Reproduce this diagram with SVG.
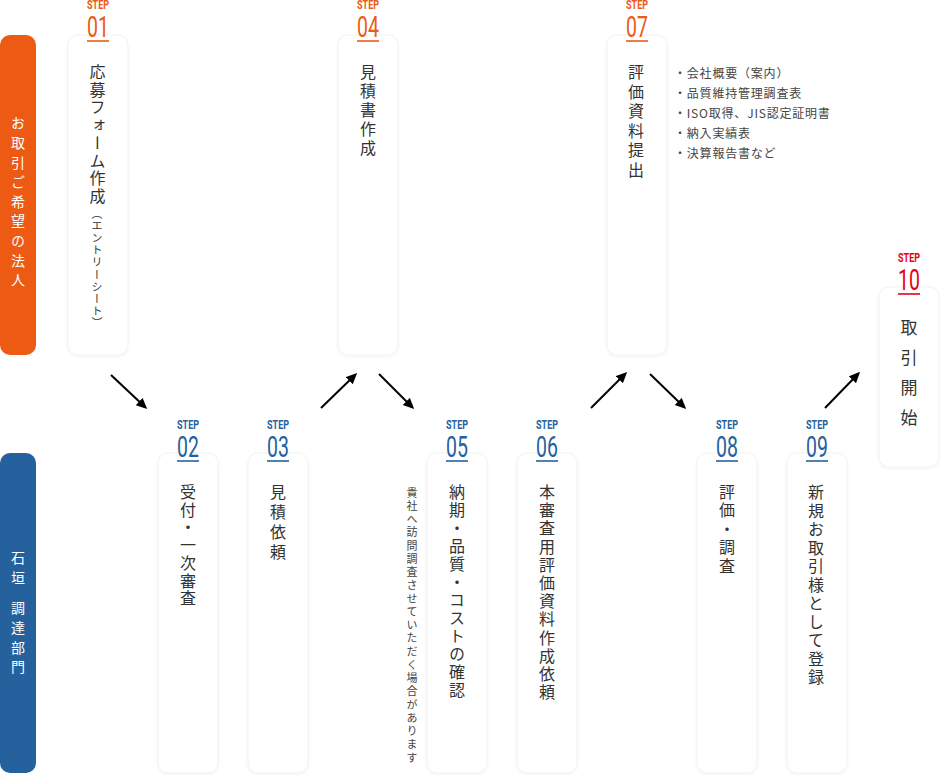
<svg xmlns="http://www.w3.org/2000/svg" width="940" height="775" viewBox="0 0 940 775">
<defs>
<style>
.bg{fill:#ffffff}
.card{fill:#ffffff;stroke:#f2f2f2;stroke-width:1;filter:url(#sh)}
.vt{font-family:"Noto Sans CJK JP","Noto Sans",sans-serif;font-size:16px;fill:#333333;writing-mode:vertical-rl}
.bar{font-family:"Noto Sans CJK JP","Noto Sans",sans-serif;font-size:14px;fill:#ffffff;writing-mode:vertical-rl;letter-spacing:5.6px}
.note{font-family:"Noto Sans CJK JP","Noto Sans",sans-serif;font-size:11px;fill:#444444;writing-mode:vertical-rl;letter-spacing:2.25px}
.list{font-family:"Noto Sans CJK JP","Noto Sans",sans-serif;font-size:12px;fill:#444444;letter-spacing:0.8px}
.stp{font-family:Roboto,"Liberation Sans",sans-serif;font-weight:700;font-size:12px;text-anchor:middle}
.num{font-family:Roboto,"Liberation Sans",sans-serif;font-weight:400;font-size:30px;text-anchor:middle}
.o{fill:#ec5a13}
.b{fill:#25619d}
.r{fill:#e60012}
.ul{stroke-width:1.6}
.uo{stroke:#ec5a13}
.ub{stroke:#25619d}
.ur{stroke:#e60012}
.arr{stroke:#000000;stroke-width:2;fill:none;marker-end:url(#ah)}
</style>
<filter id="sh" x="-20%" y="-5%" width="140%" height="110%">
<feDropShadow dx="0" dy="1" stdDeviation="1.5" flood-color="#000000" flood-opacity="0.06"/>
</filter>
<marker id="ah" markerUnits="userSpaceOnUse" markerWidth="12" markerHeight="12" refX="8" refY="5" orient="auto">
<path d="M0,0 L11,5 L0,10 z" fill="#000000"/>
</marker>
</defs>
<rect class="bg" x="0" y="0" width="940" height="775"/>

<g id="lane-client">
<rect x="0" y="35" width="36" height="320" rx="10" fill="#ec5a13"/>
<text class="bar" x="18" y="116">お取引ご希望の法人</text>
</g>
<g id="lane-ishigaki">
<rect x="0" y="453" width="36" height="320" rx="10" fill="#25619d"/>
<text class="bar" x="18" y="551">石垣</text>
<text class="bar" x="18" y="601">調達部門</text>
</g>

<g id="step01">
<rect class="card" x="68" y="35" width="60" height="320" rx="10"/>
<text class="stp o" transform="translate(98,8.5) scale(0.75,1)">STEP</text>
<text class="num o" transform="translate(98,37) scale(0.65,1)">01</text>
<line class="ul uo" x1="87" y1="41" x2="109" y2="41"/>
<text class="vt" x="97.5" y="64" style="letter-spacing:1.7px">応募フォーム作成</text>
<text class="vt" x="97" y="208" style="font-size:11px;letter-spacing:1.2px">（エントリーシート）</text>
</g>

<g id="step02">
<rect class="card" x="158" y="453" width="60" height="320" rx="10"/>
<text class="stp b" transform="translate(188,429) scale(0.75,1)">STEP</text>
<text class="num b" transform="translate(188,457) scale(0.65,1)">02</text>
<line class="ul ub" x1="177" y1="461" x2="199" y2="461"/>
<text class="vt" x="188" y="484" style="letter-spacing:1.7px">受付・一次審査</text>
</g>

<g id="step03">
<rect class="card" x="248" y="453" width="60" height="320" rx="10"/>
<text class="stp b" transform="translate(278,429) scale(0.75,1)">STEP</text>
<text class="num b" transform="translate(278,457) scale(0.65,1)">03</text>
<line class="ul ub" x1="267" y1="461" x2="289" y2="461"/>
<text class="vt" x="278" y="484" style="letter-spacing:4px">見積依頼</text>
</g>

<g id="step04">
<rect class="card" x="338" y="35" width="60" height="320" rx="10"/>
<text class="stp o" transform="translate(368,8.5) scale(0.75,1)">STEP</text>
<text class="num o" transform="translate(368,37) scale(0.65,1)">04</text>
<line class="ul uo" x1="357" y1="41" x2="379" y2="41"/>
<text class="vt" x="368" y="64" style="letter-spacing:3px">見積書作成</text>
</g>

<g id="step05">
<rect class="card" x="427" y="453" width="60" height="320" rx="10"/>
<text class="stp b" transform="translate(457,429) scale(0.75,1)">STEP</text>
<text class="num b" transform="translate(457,457) scale(0.65,1)">05</text>
<line class="ul ub" x1="446" y1="461" x2="468" y2="461"/>
<text class="vt" x="457" y="484" style="letter-spacing:2px">納期・品質・コストの確認</text>
</g>

<g id="step05-note">
<text class="note" x="412" y="487">貴社へ訪問調査させていただく場合があります</text>
</g>

<g id="step06">
<rect class="card" x="517" y="453" width="60" height="320" rx="10"/>
<text class="stp b" transform="translate(547,429) scale(0.75,1)">STEP</text>
<text class="num b" transform="translate(547,457) scale(0.65,1)">06</text>
<line class="ul ub" x1="536" y1="461" x2="558" y2="461"/>
<text class="vt" x="547" y="484" style="letter-spacing:2.2px">本審査用評価資料作成依頼</text>
</g>

<g id="step07">
<rect class="card" x="607" y="35" width="60" height="320" rx="10"/>
<text class="stp o" transform="translate(637,8.5) scale(0.75,1)">STEP</text>
<text class="num o" transform="translate(637,37) scale(0.65,1)">07</text>
<line class="ul uo" x1="626" y1="41" x2="648" y2="41"/>
<text class="vt" x="636" y="64" style="letter-spacing:3.5px">評価資料提出</text>
</g>

<g id="step07-list">
<text class="list" x="674" y="77.5">・会社概要（案内）</text>
<text class="list" x="674" y="97.5">・品質維持管理調査表</text>
<text class="list" x="674" y="117.5">・ISO取得、JIS認定証明書</text>
<text class="list" x="674" y="137.5">・納入実績表</text>
<text class="list" x="674" y="157.5">・決算報告書など</text>
</g>

<g id="step08">
<rect class="card" x="697" y="453" width="60" height="320" rx="10"/>
<text class="stp b" transform="translate(727,429) scale(0.75,1)">STEP</text>
<text class="num b" transform="translate(727,457) scale(0.65,1)">08</text>
<line class="ul ub" x1="716" y1="461" x2="738" y2="461"/>
<text class="vt" x="727" y="484" style="letter-spacing:2.4px">評価・調査</text>
</g>

<g id="step09">
<rect class="card" x="787" y="453" width="60" height="320" rx="10"/>
<text class="stp b" transform="translate(817,429) scale(0.75,1)">STEP</text>
<text class="num b" transform="translate(817,457) scale(0.65,1)">09</text>
<line class="ul ub" x1="806" y1="461" x2="828" y2="461"/>
<text class="vt" x="816" y="484" style="letter-spacing:2.5px">新規お取引様として登録</text>
</g>

<g id="step10">
<rect class="card" x="879" y="287" width="60" height="180" rx="10"/>
<text class="stp r" transform="translate(909,262) scale(0.75,1)">STEP</text>
<text class="num r" transform="translate(909,290) scale(0.65,1)">10</text>
<line class="ul ur" x1="898" y1="294" x2="920" y2="294"/>
<text class="vt" x="909" y="319" style="font-size:17px;letter-spacing:13px">取引開始</text>
</g>

<g id="connectors">
<path class="arr" d="M111,375 L145,407"/>
<path class="arr" d="M321,408 L355,375"/>
<path class="arr" d="M379,374 L412,407"/>
<path class="arr" d="M591,408 L625,374"/>
<path class="arr" d="M650,374 L684,407"/>
<path class="arr" d="M825,408 L858,374"/>
</g>
</svg>
